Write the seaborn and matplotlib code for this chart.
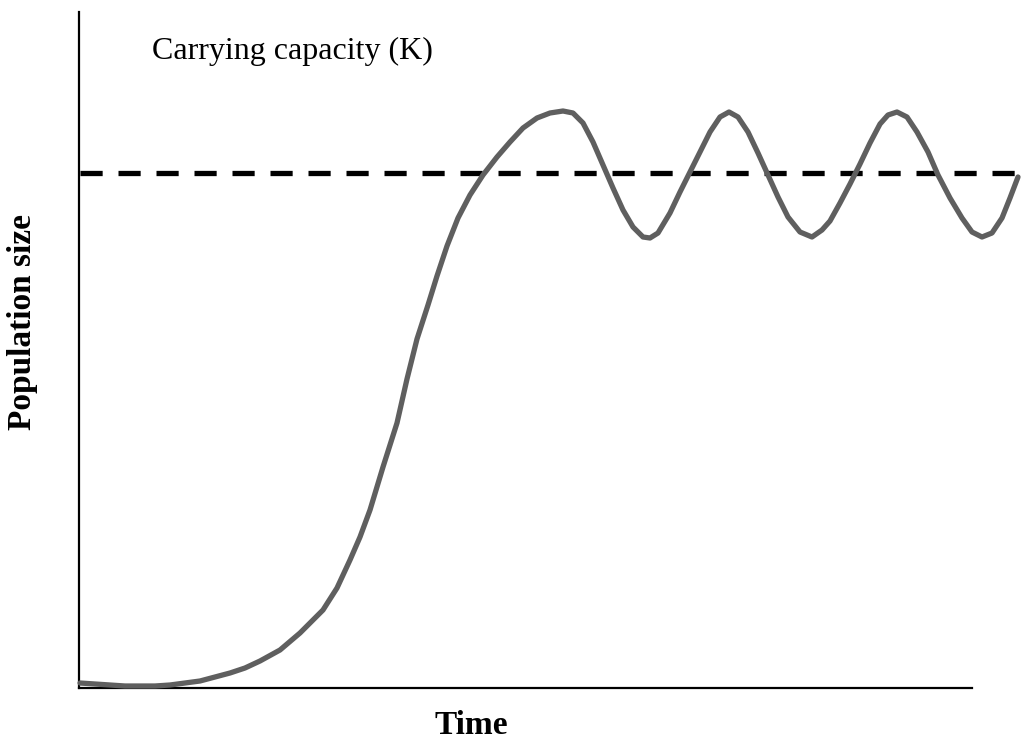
import matplotlib
matplotlib.use("Agg")
import matplotlib.pyplot as plt
import seaborn as sns
import pandas as pd

# values (arbitrary units)
time = [1, 16, 31, 46, 61, 76, 91, 106, 121, 136, 151, 166, 181, 201, 221, 244,
        258, 271, 281, 291, 304, 318, 328, 338, 349, 358, 368, 379, 391, 404, 418,
        431, 444, 458, 471, 484, 494, 504, 514, 524, 534, 544, 554, 564, 571, 579,
        591, 601, 611, 621, 631, 641, 650, 659, 669, 679, 689, 699, 709, 721, 733,
        743, 751, 761, 771, 781, 791, 801, 809, 818, 828, 838, 849, 859, 871, 883,
        893, 903, 913, 923, 931, 939]
population = [5, 4, 3, 2, 2, 2, 3, 5, 7, 11, 15, 20, 27, 38, 55, 78,
              100, 128, 151, 178, 221, 265, 309, 349, 383, 412, 442, 470, 493, 513, 531,
              546, 560, 570, 575, 577, 575, 565, 546, 523, 500, 478, 461, 451, 450, 455,
              475, 496, 516, 536, 556, 571, 576, 571, 556, 535, 513, 491, 471, 456, 451,
              458, 467, 485, 504, 524, 545, 564, 573, 576, 571, 556, 536, 513, 490, 470,
              456, 451, 455, 470, 490, 511]
K = 515
x_max = 893
y_max = 676

df = pd.DataFrame({"time": time, "population": population})

sns.set_style("white")
plt.rcParams['font.family'] = ['Liberation Serif', 'DejaVu Serif']

fig = plt.figure(figsize=(10.22, 7.41), dpi=100)
ax = fig.add_axes([79 / 1022, 53 / 741, 893 / 1022, 676 / 741])

ax.plot([time[0], time[-1]], [K, K], color='black', lw=3.8,
        dashes=(4.2, 3.0), clip_on=False, zorder=2)
sns.lineplot(data=df, x="time", y="population", sort=False, ax=ax,
             color='#5f5f5f', lw=3.8, clip_on=False, zorder=3,
             solid_joinstyle='round', solid_capstyle='round')

ax.set_xlim(0, x_max)
ax.set_ylim(0, y_max)
ax.set_xticks([])
ax.set_yticks([])
for side in ['top', 'right']:
    ax.spines[side].set_visible(False)
for side in ['left', 'bottom']:
    ax.spines[side].set_color('black')
    ax.spines[side].set_linewidth(1.6)

ax.text(73, 637, "Carrying capacity (K)", fontsize=23, va='center', ha='left',
        color='black')

ax.set_xlabel("Time", fontsize=24, fontweight='bold', color='black', va='baseline')
ax.set_ylabel("Population size", fontsize=24, fontweight='bold', color='black')
ax.xaxis.set_label_coords((471 - 79) / 893, -(734 - 688) / 676)
ax.yaxis.set_label_coords(-(79 - 38) / 893, (688 - 322) / 676)

fig.savefig("out.png", dpi=100)
